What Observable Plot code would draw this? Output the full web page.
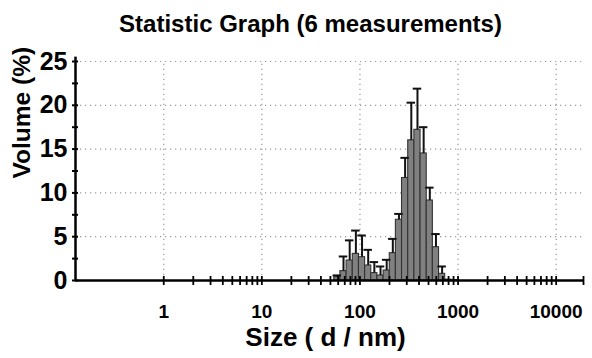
<!DOCTYPE html>
<html><head><meta charset="utf-8">
<script src="https://cdn.jsdelivr.net/npm/d3@7"></script>
<script src="https://cdn.jsdelivr.net/npm/@observablehq/plot@0.6"></script>
<style>body{margin:0;background:#fff} svg{display:block}</style>
</head><body><div id="chart"></div>
<script>
// Size classes (nm): each bar spans binEdges[i] .. binEdges[i+1]
const binEdges = [54.7, 63.2, 73.1, 84.5, 97.7, 112.9, 130.4, 150.7, 174.2, 201.3, 232.4, 268.5, 310.5, 358.8, 414.7, 479.5, 553.6, 640, 739.6, 855, 988];
// Mean volume (%) of the 6 measurements and their standard deviation
const volumeMean = [0.38, 1.07, 2.28, 3.04, 2.66, 1.71, 0.84, 0.57, 1.14, 3.12, 6.93, 11.7, 16.0, 17.2, 14.5, 9.13, 3.8, 0.76, 0.1, 0.05];
const volumeSD   = [0.2, 1.67, 2.3, 2.66, 2.48, 1.79, 1.26, 1.03, 1.22, 1.63, 0.67, 2.3, 4.3, 4.7, 3.0, 1.47, 1.5, 0.84, 0, 0];
const xTickLabels = [1, 10, 100, 1000, 10000];
const yTickLabels = [0, 5, 10, 15, 20, 25];
const yMinorTicks = [0, 2.5, 5, 7.5, 10, 12.5, 15, 17.5, 20, 22.5, 25];
const xDomain = [0.126, 19000];
const yDomain = [0, 25];

const data = volumeMean.map((v, i) => ({
  lo: binEdges[i], hi: binEdges[i + 1],
  c: Math.sqrt(binEdges[i] * binEdges[i + 1]),
  v, sd: volumeSD[i], top: v + volumeSD[i]
}));
const errData = data.filter(d => d.sd > 0);
const xAllTicks = xTickLabels.slice(0, -1).flatMap(d => [1,2,3,4,5,6,7,8,9].map(k => k * d)).concat([10000, xDomain[1]]);

const F = "'Liberation Sans', Arial, Helvetica, sans-serif";
const chart = Plot.plot({
  width: 592, height: 358,
  marginLeft: 75, marginRight: 9, marginTop: 61, marginBottom: 78,
  x: {type: "log", domain: xDomain},
  y: {domain: yDomain},
  style: {fontFamily: F, background: "white", overflow: "visible", color: "black"},
  marks: [
    Plot.ruleY(yTickLabels.slice(1), {x1: xDomain[0], x2: xDomain[1], stroke: "#999", strokeWidth: 1.2, strokeDasharray: "1.2,3.8"}),
    Plot.ruleX(xTickLabels, {y1: 0, y2: 25, stroke: "#999", strokeWidth: 1.2, strokeDasharray: "1.2,3.8"}),
    Plot.rectY(data, {x1: "lo", x2: "hi", y: "v", fill: "#808080", stroke: "#333", strokeWidth: 1.1}),
    Plot.ruleX(errData, {x: "c", y1: "v", y2: "top", stroke: "#111", strokeWidth: 2}),
    Plot.ruleY(errData, {y: "top", x1: d => d.c / 1.105, x2: d => d.c * 1.105, stroke: "#111", strokeWidth: 2}),
    Plot.ruleY([0], {x1: xDomain[0], x2: xDomain[1], stroke: "black", strokeWidth: 2.5}),
    Plot.ruleX([xDomain[0]], {y1: 0, y2: 25.5, stroke: "black", strokeWidth: 2.5}),
    Plot.axisY({ticks: yMinorTicks, tickSize: 6, dx: 3, fill: "none", stroke: "black", strokeWidth: 2, label: null}),
    Plot.axisY({ticks: yTickLabels, tickSize: 0, tickPadding: 8, fontSize: 25, fontWeight: "bold", label: null}),
    Plot.axisX({ticks: xAllTicks, tickSize: 9, dy: -4, fill: "none", stroke: "black", strokeWidth: 1.8, label: null}),
    Plot.axisX({ticks: xTickLabels, tickSize: 0, tickPadding: 24, fontSize: 19, fontWeight: "bold", tickFormat: d => String(d), label: null, ariaLabel: "x-tick-labels"}),
    Plot.text(["Statistic Graph (6 measurements)"], {frameAnchor: "top", lineAnchor: "top", dx: -19, dy: -47, fontSize: 24, fontWeight: "bold"}),
    Plot.text(["Size ( d / nm)"], {frameAnchor: "bottom", lineAnchor: "top", dx: -4, dy: 47, fontSize: 26, fontWeight: "bold", ariaLabel: "x-title"}),
    Plot.text(["Volume (%)"], {frameAnchor: "left", rotate: -90, dx: -53, dy: 7.5, fontSize: 24.5, fontWeight: "bold"})
  ]
});
// condensed look for x tick labels
d3.select(chart).selectAll('g[aria-label="x-tick-labels"] text').each(function() {
  const t = d3.select(this);
  t.attr("transform", (t.attr("transform") || "") + " scale(0.86,1)");
});
// smaller closing parenthesis in the x title
d3.select(chart).selectAll('g[aria-label="x-title"] text').each(function() {
  const t = d3.select(this);
  const s = t.text();
  t.text(s.slice(0, -1));
  t.append("tspan").attr("font-size", 19).text(s.slice(-1));
});
document.getElementById("chart").appendChild(chart);
</script></body></html>
